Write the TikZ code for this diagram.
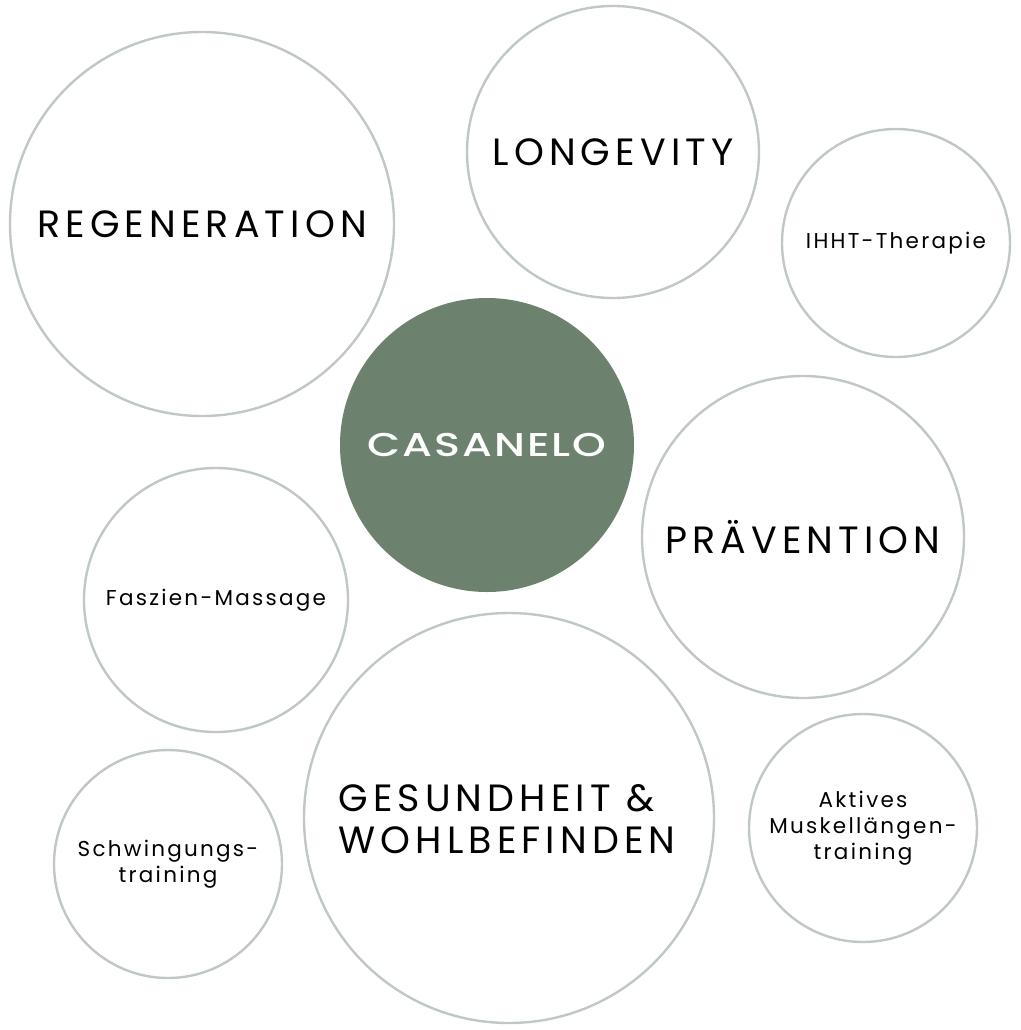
\documentclass[tikz,border=0pt]{standalone}
\usepackage{fontspec}
\setmainfont{Poppins}
\newfontfamily\bigfont[LetterSpace=13.5]{Poppins}
\newfontfamily\smallfont[LetterSpace=10.5]{Poppins}
\newfontfamily\brandfont[LetterSpace=6, FakeStretch=1.3]{Poppins Medium}
\definecolor{casagreen}{RGB}{108, 130, 110}
\definecolor{ringgray}{RGB}{192, 200, 195}

\tikzset{
  bubble/.style={circle, draw=ringgray, line width=2.4pt, inner sep=0pt, align=center},
  bigtext/.style={font=\bigfont\fontsize{38}{42}\selectfont},
  smalltext/.style={font=\smallfont\fontsize{21.5}{26}\selectfont}
}

\begin{document}
\begin{tikzpicture}[x=1pt, y=-1pt]
    \useasboundingbox (0,0) rectangle (1020,1030);

    %% large topic circles
    \node[bubble, bigtext, minimum size=384pt] (regen) at (202,224) {REGENERATION};
    \node[bubble, bigtext, minimum size=292pt] (longev) at (613,152) {LONGEVITY};
    \node[bubble, bigtext, minimum size=322pt] (praev) at (803,537) {PRÄVENTION};
    \node[bubble, minimum size=410pt] (gesund) at (509,818) {};
    \node[bigtext, align=left] (gesundtext) at (507,819) {GESUNDHEIT \&\\WOHLBEFINDEN};

    %% small treatment circles
    \node[bubble, smalltext, minimum size=228pt] (ihht) at (896,243) {IHHT-Therapie};
    \node[bubble, smalltext, minimum size=264pt] (faszien) at (216,600) {Faszien-Massage};
    \node[bubble, smalltext, minimum size=228pt] (schwing) at (168,864) {Schwingungs-\\training};
    \node[bubble, smalltext, minimum size=228pt] (aktiv) at (863,828) {Aktives\\Muskellängen-\\training};

    %% centre
    \node[circle, fill=casagreen, minimum size=294pt, inner sep=0pt, text=white,
      font=\brandfont\fontsize{33}{38}\selectfont] (casanelo) at (487,445) {CASANELO};
\end{tikzpicture}
\end{document}
